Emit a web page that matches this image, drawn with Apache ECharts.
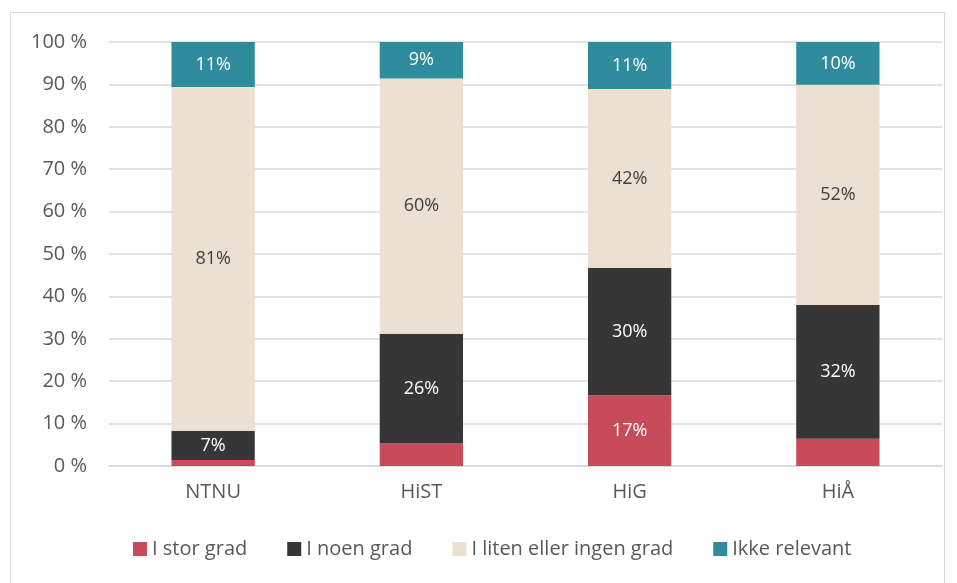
<!DOCTYPE html>
<html>
<head>
<meta charset="utf-8">
<script src="https://cdn.jsdelivr.net/npm/echarts@6/dist/echarts.min.js"></script>
<style>
  html, body { margin: 0; padding: 0; background: #fff; }
  .frame {
    position: absolute;
    left: 10px; top: 12px;
    width: 935px; height: 580px;
    border: 1px solid #d9d9d9;
    box-sizing: border-box;
  }
  #chart { position: absolute; left: 0; top: 0; width: 957px; height: 583px; }
</style>
</head>
<body>
<div class="frame"></div>
<div id="chart"></div>
<script>
const categories = ['NTNU', 'HiST', 'HiG', 'HiÅ'];
const storGrad = [1.4, 5.3, 16.7, 6.4];
const noenGrad = [6.9, 25.9, 30.0, 31.6];
const litenGrad = [81.1, 60.2, 42.2, 51.9];
const ikkeRelevant = [10.6, 8.7, 11.1, 10.1];

const font = 'Open Sans';

const chart = echarts.init(document.getElementById('chart'));

function mkSeries(name, data, color, labelColor) {
  return {
    name: name,
    type: 'bar',
    stack: 'total',
    barWidth: '40%',
    data: data,
    itemStyle: { color: color },
    label: {
      show: true,
      position: 'inside',
      color: labelColor,
      fontFamily: font,
      fontSize: 18,
      formatter: function (p) {
        return p.value >= 6.5 ? Math.round(p.value) + '%' : '';
      }
    }
  };
}

const option = {
  animation: false,
  textStyle: { fontFamily: font },
  grid: { left: 109, right: 15, top: 42, bottom: 117 },
  legend: {
    left: 128,
    top: 534,
    itemWidth: 14,
    itemHeight: 14,
    itemGap: 40,
    icon: 'rect',
    textStyle: { color: '#595959', fontSize: 20, fontFamily: font }
  },
  xAxis: {
    type: 'category',
    data: categories,
    axisLine: { show: true, lineStyle: { color: '#d9d9d9', width: 1.5 } },
    axisTick: { show: false },
    axisLabel: { color: '#595959', fontSize: 20, margin: 16 }
  },
  yAxis: {
    type: 'value',
    min: 0,
    max: 100,
    interval: 10,
    axisLine: { show: false },
    axisTick: { show: false },
    splitLine: { lineStyle: { color: '#d9d9d9', width: 1.5 } },
    axisLabel: { color: '#595959', fontSize: 20, margin: 22, formatter: '{value} %' }
  },
  series: [
    mkSeries('I stor grad', storGrad, '#C84B5A', '#ffffff'),
    mkSeries('I noen grad', noenGrad, '#363636', '#ffffff'),
    mkSeries('I liten eller ingen grad', litenGrad, '#EBE0D2', '#404040'),
    mkSeries('Ikke relevant', ikkeRelevant, '#2E8C9C', '#ffffff')
  ]
};

chart.setOption(option);
</script>
</body>
</html>
